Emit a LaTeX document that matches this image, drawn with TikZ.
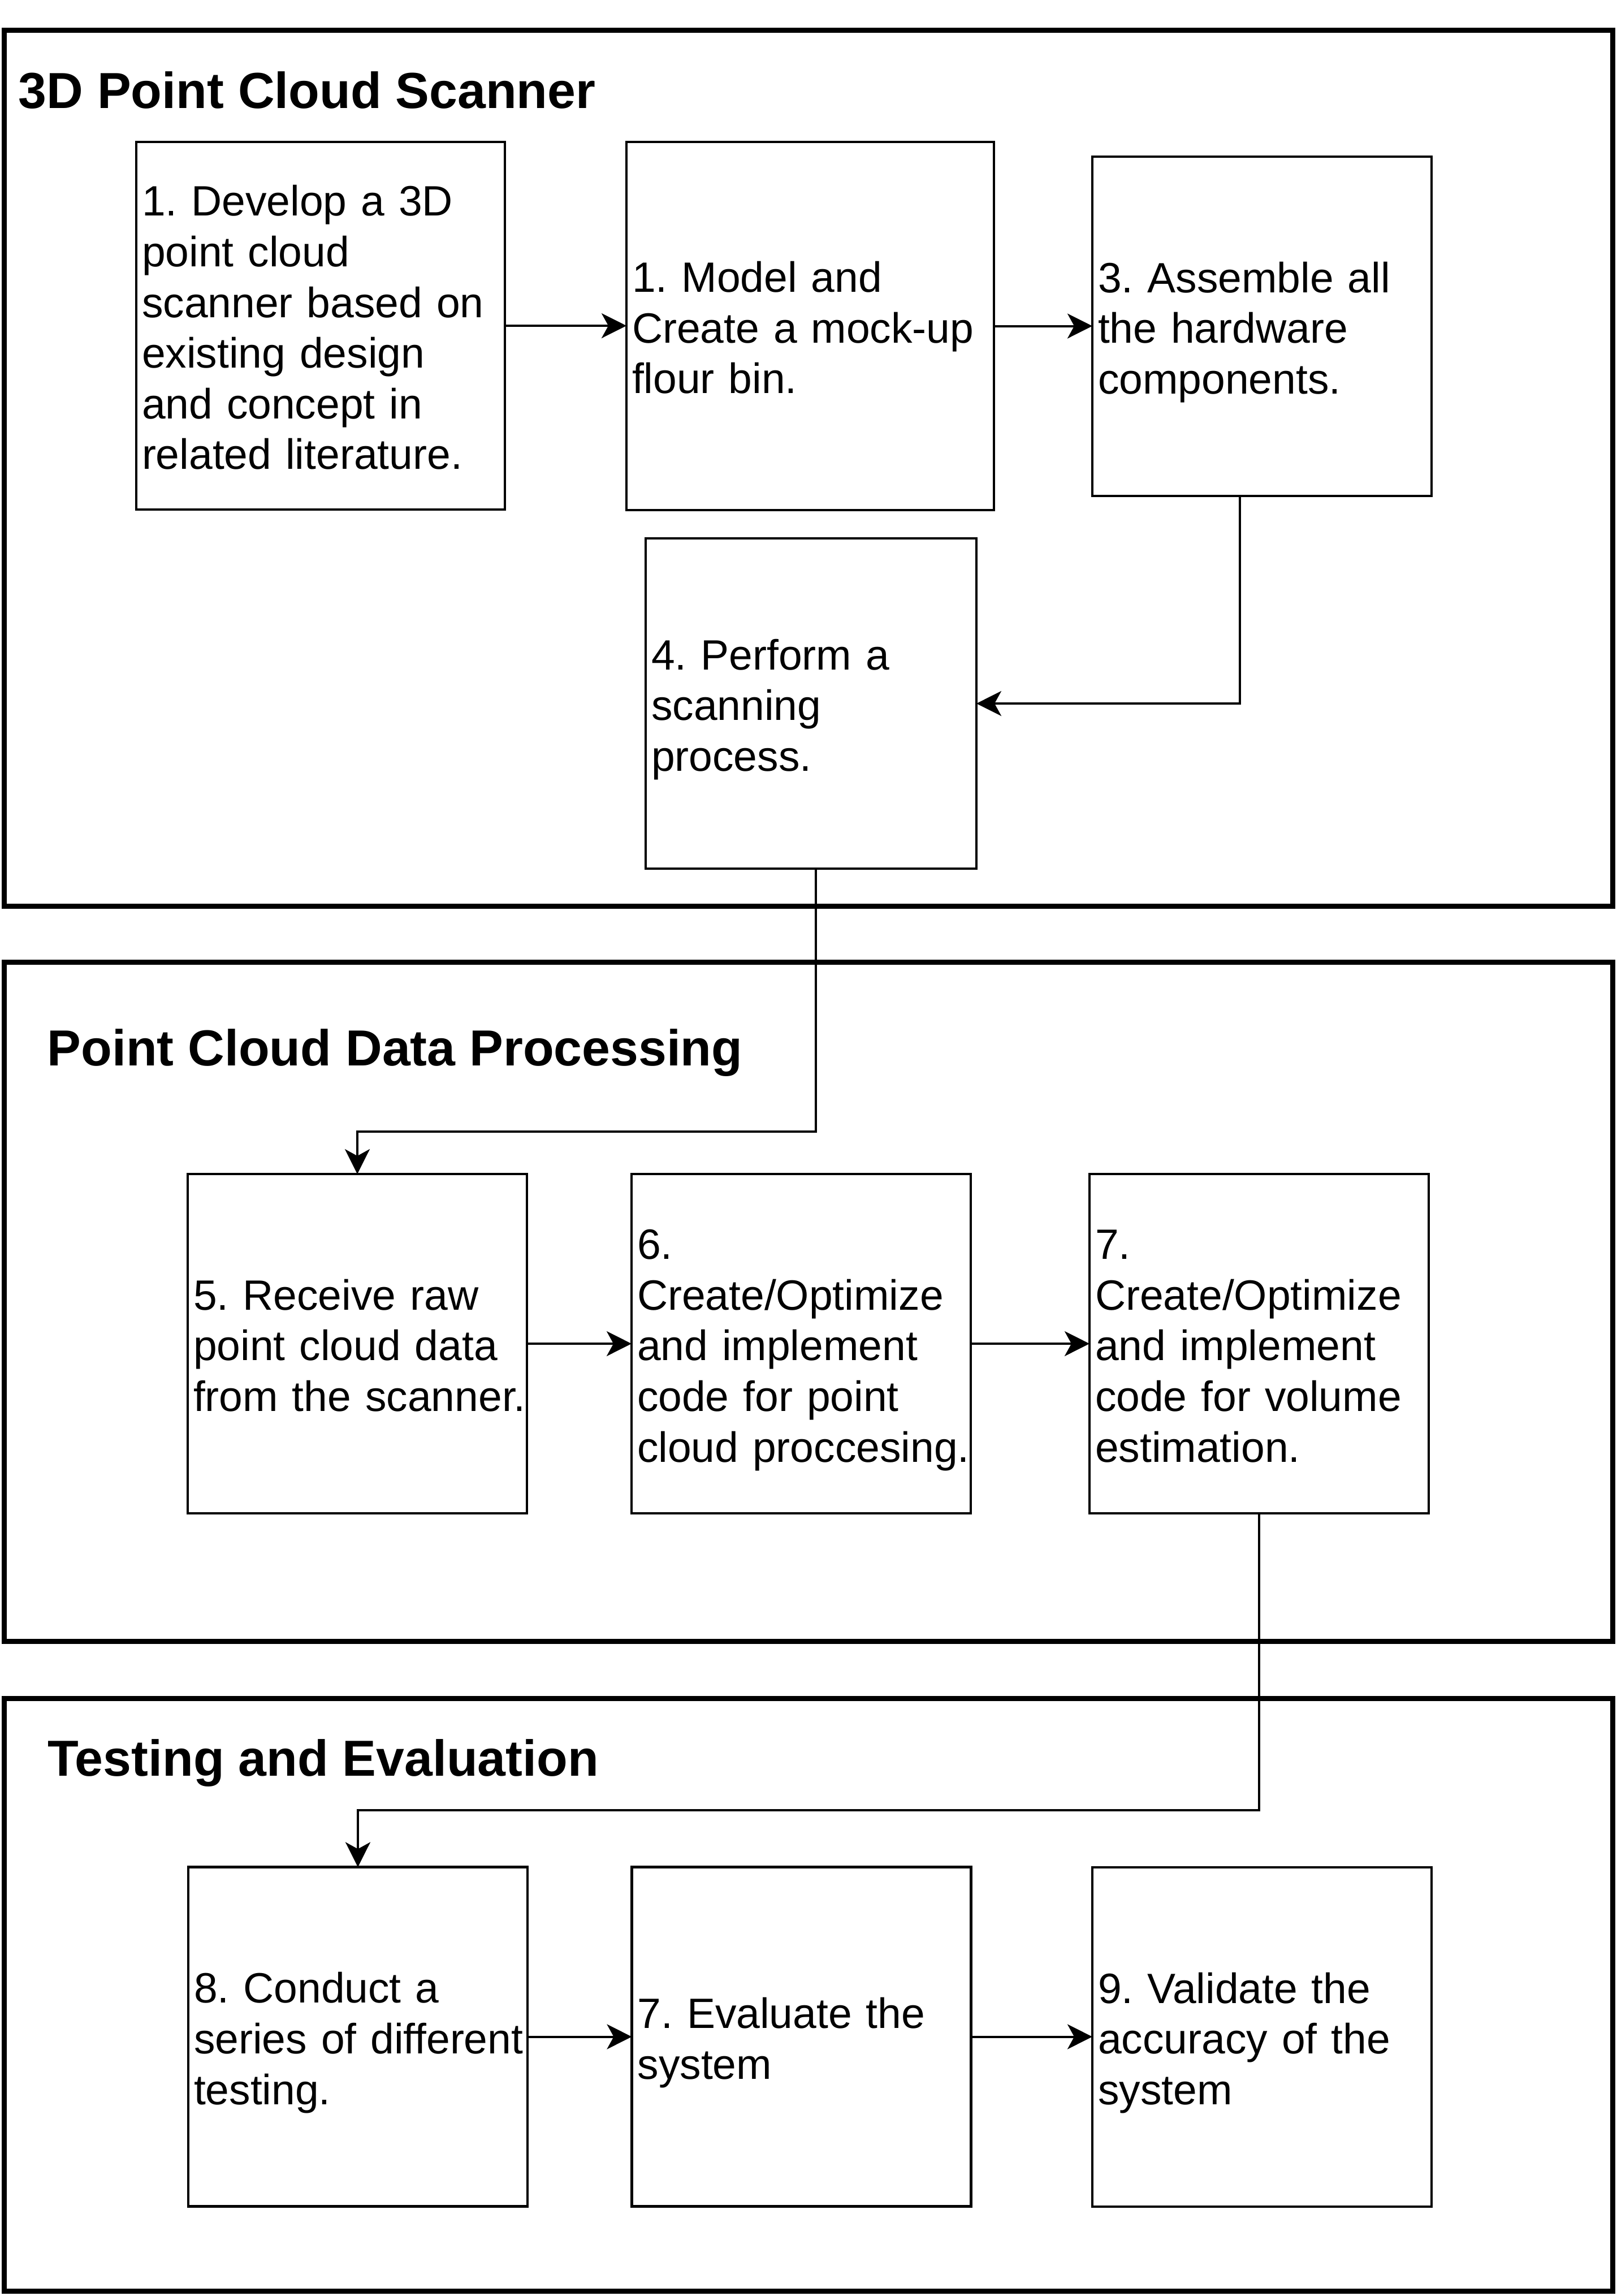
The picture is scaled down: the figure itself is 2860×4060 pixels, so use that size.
\documentclass[tikz,border=0pt]{standalone}
\usepackage{fontspec}
\setmainfont{Liberation Sans}
\usetikzlibrary{arrows.meta,calc}
\newcommand\lnstrut{\rule[-4.73pt]{0pt}{22.4pt}}
\newcommand\topstrut{\rule[-4.73pt]{0pt}{24.4pt}}
\frenchspacing
\begin{document}
\begin{tikzpicture}[x=0.25pt,y=-0.25pt,
  sect/.style={draw, line width=2.25pt, inner sep=0pt, outer sep=0pt, minimum width=711.25pt},
  box/.style={draw, line width=1.1pt, inner xsep=1.25pt, inner ysep=0pt, outer sep=0pt, align=left,
    font=\fontsize{18.75pt}{22.4pt}\selectfont\frenchspacing,
    execute at begin node={\leftskip=1.25pt\relax\rightskip=-1.25pt plus 1fil\relax\topstrut},
    execute at end node=\lnstrut},
  sq/.style={box, minimum height=150pt, text width=147.5pt},
  ttl/.style={anchor=base west, inner sep=0pt, font=\bfseries\fontsize{22.4pt}{27pt}\selectfont},
  arr/.style={line width=1pt, -{Stealth[length=11pt,width=11pt,inset=3pt]}}]
\useasboundingbox (0,0) rectangle (2860,4060);

% sections
\node[sect, minimum height=387.25pt] (sec1) at (1429.5,827.5) {};
\node[sect, minimum height=300.25pt] (sec2) at (1429.5,2301.5) {};
\node[sect, minimum height=262pt] (sec3) at (1429.5,3527) {};

\node[ttl] (t1) at (32,191) {3D Point Cloud Scanner};
\node[ttl] (t2) at (83,1884) {Point Cloud Data Processing};
\node[ttl] (t3) at (84,3140) {Testing and Evaluation};

% section 1
\node[box, minimum height=162.5pt, text width=160.5pt] (b1) at (567,576)
  {1. Develop a 3D\\point cloud\\scanner based on\\existing design\\and concept in\\related literature.};
\node[box, minimum height=162.75pt, text width=160pt] (b2) at (1433,576.5)
  {1. Model and\\Create a mock-up\\flour bin.};
\node[sq] (b3) at (2232,577)
  {3. Assemble all\\the hardware\\components.};
\node[box, minimum height=146pt, text width=143.75pt] (b4) at (1434.5,1244)
  {4. Perform a\\scanning\\process.};

% section 2
\node[sq] (b5) at (632,2376) {5. Receive raw\\point cloud data\\from the scanner.};
\node[sq] (b6) at (1417,2376) {6.\\Create/Optimize\\and implement\\code for point\\cloud proccesing.};
\node[sq] (b7) at (2227,2376) {7.\\Create/Optimize\\and implement\\code for volume\\estimation.};

% section 3
\node[sq] (b8) at (633,3601.5) {8. Conduct a\\series of different\\testing.};
\node[sq] (b9) at (1417.5,3601.5) {7. Evaluate the\\system};
\node[sq] (b10) at (2232,3602) {9. Validate the\\accuracy of the\\system};

% connectors
\coordinate (k1) at (2193,1244);
\coordinate (k2) at (1443,2001);
\coordinate (k3) at (2227,3201);

\draw[arr] (b1.east) -- (b1.east -| b2.west);
\draw[arr] (b2.east) -- (b2.east -| b3.west);
\draw[arr] (b3.south -| k1) -- (k1) -- (b4.east |- k1);
\draw[arr] (b4.south -| k2) -- (k2) -| (b5.north);
\draw[arr] (b5.east) -- (b6.west);
\draw[arr] (b6.east) -- (b7.west);
\draw[arr] (b7.south) -- (k3) -| (b8.north);
\draw[arr] (b8.east) -- (b9.west);
\draw[arr] (b9.east) -- (b9.east -| b10.west);
\end{tikzpicture}
\end{document}
